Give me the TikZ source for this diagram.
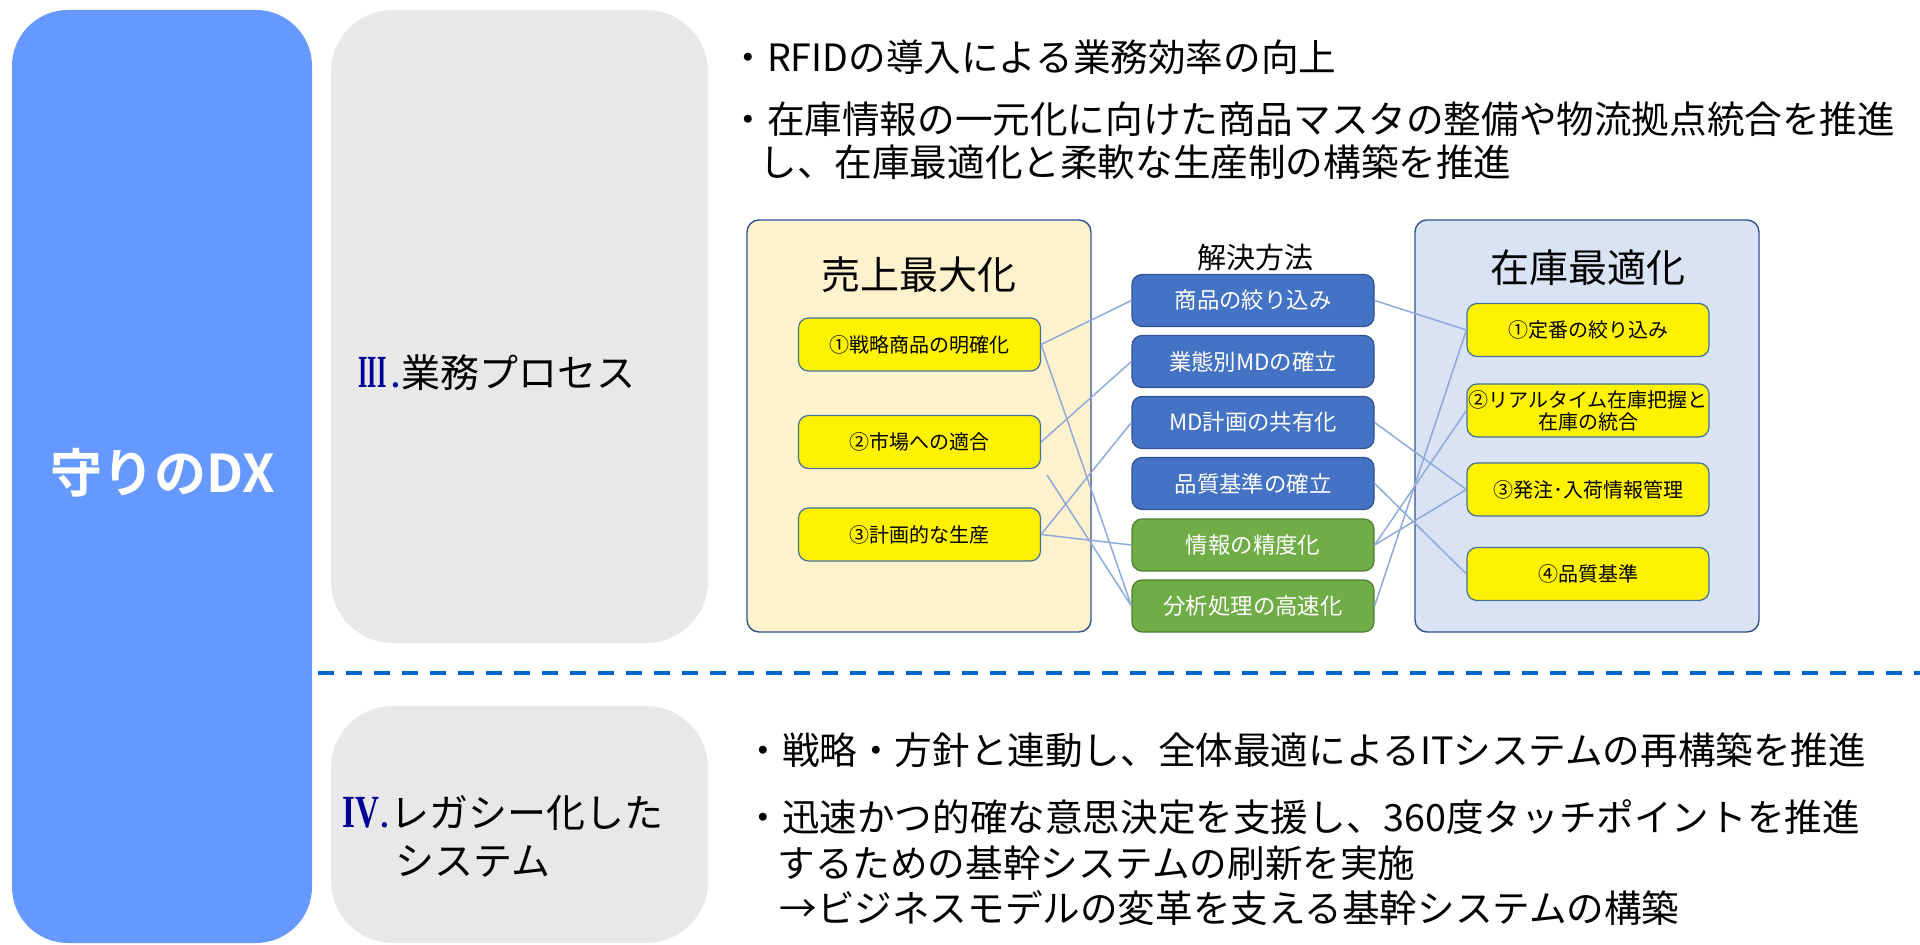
\documentclass[tikz,border=0pt]{standalone}
\usepackage{fontspec}
\setmainfont{Noto Sans CJK JP}[BoldFont={Noto Sans CJK JP Bold}]
\newfontfamily\romfont{Liberation Serif}
\usepackage{graphicx}

\definecolor{dxblue}{HTML}{6699FF}
\definecolor{panelgray}{HTML}{E8E8E8}
\definecolor{dashblue}{HTML}{0066CC}
\definecolor{cream}{HTML}{FFF2CC}
\definecolor{paleblue}{HTML}{DAE3F3}
\definecolor{boxline}{HTML}{2F528F}
\definecolor{yelline}{HTML}{41719C}
\definecolor{solblue}{HTML}{4472C4}
\definecolor{solgreen}{HTML}{70AD47}
\definecolor{greenline}{HTML}{507E32}
\definecolor{linkblue}{HTML}{8FAADC}
\definecolor{navy}{HTML}{000099}

\tikzset{
  panel/.style={fill=panelgray, rounded corners=31pt, inner sep=0pt},
  groupbox/.style={draw=boxline, line width=0.7pt, rounded corners=6pt, inner sep=0pt,
    minimum width=172pt, minimum height=206pt},
  yelbox/.style={fill=yellow, draw=yelline, line width=0.6pt, rounded corners=5pt, inner sep=0pt,
    minimum width=121pt, minimum height=26.5pt, align=center,
    font=\fontsize{10pt}{11pt}\selectfont},
  solbox/.style={draw=boxline, fill=solblue, line width=0.6pt, rounded corners=5pt, inner sep=0pt,
    minimum width=121pt, minimum height=26pt, text=white,
    font=\fontsize{11.2pt}{13pt}\selectfont},
  grnbox/.style={solbox, fill=solgreen, draw=greenline},
  grouptitle/.style={font=\fontsize{19.5pt}{23pt}\selectfont, inner sep=0pt},
  bullet/.style={anchor=base west, inner sep=0pt, font=\fontsize{18.8pt}{22pt}\selectfont},
  seclabel/.style={anchor=base west, inner sep=0pt, font=\fontsize{19.5pt}{24pt}\selectfont},
  link/.style={draw=linkblue, line width=0.75pt},
}

\begin{document}
\begin{tikzpicture}[x=0.5pt, y=-0.5pt]
\useasboundingbox (0,0) rectangle (1920,945);
\fill[white] (0,0) rectangle (1920,945);

% left column
\node[fill=dxblue, rounded corners=28pt, inner sep=0pt, minimum width=150pt, minimum height=466.5pt] (dx) at (162,476.5) {};
\node[text=white, font=\bfseries\fontsize{26pt}{30pt}\selectfont, inner sep=0pt] (dxlabel) at (163,473) {守りのDX};

\node[panel, minimum width=188.5pt, minimum height=316.5pt] (p3) at (519.5,326.5) {};
\node[panel, minimum width=188.5pt, minimum height=118.5pt] (p4) at (519.5,824.5) {};

\node[seclabel] (l3) at (358,388) {\textcolor{navy}{\fontsize{23pt}{24pt}\romfont\bfseries\scalebox{0.52}[1]{III}}\hspace{2pt}\textcolor{navy}{.}業務プロセス};
\node[seclabel] (l4a) at (342,827) {\textcolor{navy}{\fontsize{23pt}{24pt}\romfont\bfseries\scalebox{0.72}[1]{IV}}\textcolor{navy}{.}レガシー化した};
\node[seclabel] (l4b) at (395,875) {システム};

% dashed separator
\coordinate (dashL) at (318,673);
\coordinate (dashR) at (1920,673);
\draw[dashblue, line width=2pt, dash pattern=on 8pt off 6pt] (dashL) -- (dashR);

% top bullets
\node[bullet] (t1) at (729,72) {・RFIDの導入による業務効率の向上};
\node[bullet] (t2) at (729,134) {・在庫情報の一元化に向けた商品マスタの整備や物流拠点統合を推進};
\node[bullet] (t3) at (759,177) {し、在庫最適化と柔軟な生産制の構築を推進};

% bottom bullets
\node[bullet] (b1) at (744,764) {・戦略・方針と連動し、全体最適によるITシステムの再構築を推進};
\node[bullet] (b2) at (744,831) {・迅速かつ的確な意思決定を支援し、360度タッチポイントを推進};
\node[bullet] (b3) at (777,877) {するための基幹システムの刷新を実施};
\node[bullet] (b4) at (779,922) {→ビジネスモデルの変革を支える基幹システムの構築};

% group boxes
\node[groupbox, fill=cream] (gL) at (919,426) {};
\node[groupbox, fill=paleblue] (gR) at (1587,426) {};
\node[grouptitle] (tL) at (919,275) {売上最大化};
\node[grouptitle] (tR) at (1588,268) {在庫最適化};
\node[font=\fontsize{14.5pt}{17pt}\selectfont, inner sep=0pt] (tM) at (1255,257) {解決方法};

% left yellow
\node[yelbox] (L1) at (919.5,344.5) {①戦略商品の明確化};
\node[yelbox] (L2) at (919.5,442) {②市場への適合};
\node[yelbox] (L3) at (919.5,534.5) {③計画的な生産};

% middle solutions
\node[solbox] (S1) at (1253,300.5) {商品の絞り込み};
\node[solbox] (S2) at (1253,361.5) {業態別MDの確立};
\node[solbox] (S3) at (1253,422.5) {MD計画の共有化};
\node[solbox] (S4) at (1253,483.5) {品質基準の確立};
\node[grnbox] (S5) at (1253,545) {情報の精度化};
\node[grnbox] (S6) at (1253,606) {分析処理の高速化};

% right yellow
\node[yelbox] (R1) at (1588,330) {①定番の絞り込み};
\node[yelbox] (R2) at (1588,410.5) {②リアルタイム在庫把握と\\在庫の統合};
\node[yelbox] (R3) at (1588,489.5) {③発注･入荷情報管理};
\node[yelbox] (R4) at (1588,574) {④品質基準};

% connectors
\draw[link] (L1.east) -- (S1.west);
\draw[link] (L1.east) -- (S6.west);
\draw[link] (L2.east) -- (S2.west);
\draw[link] (L3.east) -- (S3.west);
\draw[link] (L3.east) -- (S5.west);
\coordinate (freeL) at (1047,475);
\draw[link] (freeL) -- (S6.west);

\draw[link] (S1.east) -- (R1.west);
\draw[link] (S3.east) -- (R3.west);
\draw[link] (S4.east) -- (R4.west);
\draw[link] (S5.east) -- (R2.west);
\draw[link] (S5.east) -- (R3.west);
\draw[link] (S6.east) -- (R1.west);
\end{tikzpicture}
\end{document}
